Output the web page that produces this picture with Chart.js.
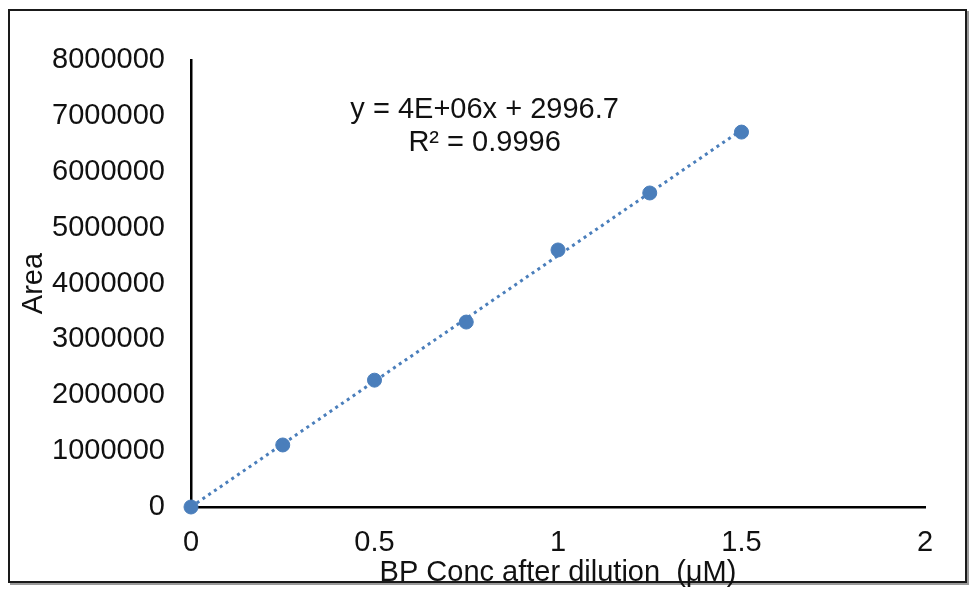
<!DOCTYPE html>
<html>
<head>
<meta charset="utf-8">
<script src="https://cdn.jsdelivr.net/npm/chart.js@4/dist/chart.umd.min.js"></script>
<style>
    body { margin: 0; background: #fff; }
    #wrap { position: absolute; left: 0; top: 0; width: 973px; height: 592px; }
    #frame {
        position: absolute; left: 8px; top: 9px; width: 955px; height: 570px;
        border: 2px solid #1a1a1a; box-shadow: 2px 2px 0 #9a9a9a;
    }
</style>
</head>
<body>
<div id="frame"></div>
<div id="wrap"><canvas id="calChart" width="973" height="592"></canvas></div>
<script>
// datos
const concentraciones = [0, 0.25, 0.5, 0.75, 1, 1.25, 1.5];
const areas = [0, 1110000, 2270000, 3310000, 4600000, 5620000, 6710000];
const ecuacion = ["y = 4E+06x + 2996.7", "R² = 0.9996"];

const azul = "#4a7ebb";
const fuente = "'Liberation Sans', Arial, sans-serif";
const tam = 29;

// línea de tendencia (mínimos cuadrados sobre los puntos)
const n = concentraciones.length;
const mx = concentraciones.reduce((a, b) => a + b, 0) / n;
const my = areas.reduce((a, b) => a + b, 0) / n;
let sxy = 0, sxx = 0;
concentraciones.forEach((x, i) => {
    sxy += (x - mx) * (areas[i] - my);
    sxx += (x - mx) * (x - mx);
});
const pendiente = sxy / sxx;
const intercepto = my - pendiente * mx;
const xs = [concentraciones[0], concentraciones[n - 1]];
const tendencia = xs.map(x => ({ x: x, y: pendiente * x + intercepto }));

// texto de la ecuación
const textoEcuacion = {
    id: "textoEcuacion",
    afterDraw(chart) {
        const { ctx, scales } = chart;
        const cx = scales.x.getPixelForValue(0.8);
        const cy = scales.y.getPixelForValue(7100000);
        ctx.save();
        ctx.font = tam + "px " + fuente;
        ctx.fillStyle = "#111";
        ctx.textAlign = "center";
        ctx.textBaseline = "middle";
        ecuacion.forEach((t, i) => ctx.fillText(t, cx, cy + i * 33));
        ctx.restore();
    }
};

new Chart(document.getElementById("calChart"), {
    type: "scatter",
    data: {
        datasets: [
            {
                label: "Tendencia",
                type: "line",
                data: tendencia,
                borderColor: azul,
                borderWidth: 3,
                borderDash: [3, 4],
                pointRadius: 0,
                fill: false,
                clip: false
            },
            {
                label: "Area",
                data: concentraciones.map((x, i) => ({ x: x, y: areas[i] })),
                backgroundColor: azul,
                borderColor: azul,
                pointRadius: 7,
                pointHoverRadius: 7,
                clip: false
            }
        ]
    },
    options: {
        responsive: false,
        animation: false,
        layout: { padding: { top: 60, right: 48, left: 0, bottom: 0 } },
        plugins: { legend: { display: false }, tooltip: { enabled: false } },
        scales: {
            x: {
                type: "linear",
                min: 0, max: 2,
                ticks: {
                    stepSize: 0.5, padding: 19, color: "#111",
                    font: { family: fuente, size: tam },
                    callback: v => String(v)
                },
                grid: { drawOnChartArea: false, drawTicks: false },
                border: { color: "#000", width: 2.5 },
                title: {
                    display: true, text: "BP Conc after dilution  (μM)", color: "#111",
                    font: { family: fuente, size: tam }, padding: { top: 0, bottom: 2 }
                },
                afterFit(scale) { scale.height = 85; }
            },
            y: {
                min: 0, max: 8000000,
                ticks: {
                    stepSize: 1000000, padding: 26, color: "#111",
                    font: { family: fuente, size: tam },
                    callback: v => String(v)
                },
                grid: { drawOnChartArea: false, drawTicks: false },
                border: { color: "#000", width: 2.5 },
                title: {
                    display: true, text: "Area", color: "#111",
                    font: { family: fuente, size: tam }, padding: { top: 17, bottom: 0 }
                },
                afterFit(scale) { scale.width = 191; }
            }
        }
    },
    plugins: [textoEcuacion]
});
</script>
</body>
</html>
